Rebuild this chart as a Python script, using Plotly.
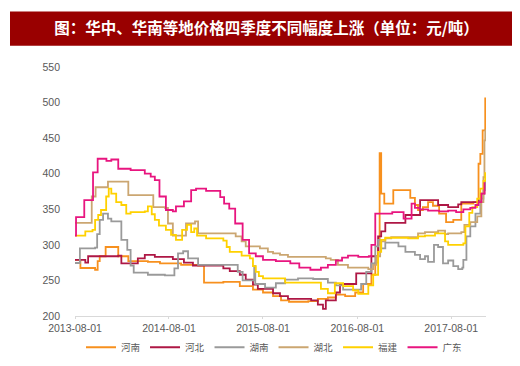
import plotly.graph_objects as go

# ---------------- data (step breakpoints) ----------------
henan_dates = ["2013-08-01", "2013-08-22", "2013-10-18", "2013-10-28", "2013-11-05", "2013-11-28",
               "2014-01-16", "2014-02-24", "2014-05-11", "2014-06-27", "2014-09-17", "2014-11-22",
               "2014-12-15", "2015-02-28", "2015-05-03", "2015-06-23", "2015-08-01", "2015-09-09",
               "2015-10-10", "2015-11-10", "2016-01-24", "2016-03-01", "2016-04-09", "2016-05-10",
               "2016-06-15", "2016-07-24", "2016-08-24", "2016-09-25", "2016-10-10", "2016-10-21",
               "2016-10-27", "2016-11-02", "2016-11-14", "2016-12-19", "2017-02-23", "2017-03-13",
               "2017-03-25", "2017-04-13", "2017-05-03", "2017-05-22", "2017-06-15", "2017-07-12",
               "2017-08-09", "2017-09-09", "2017-10-26", "2017-11-15", "2017-11-22", "2017-12-01",
               "2017-12-11"]
henan_vals = [279, 267.5, 265, 277, 284, 297,
              284, 277, 276, 274, 272, 271,
              247, 248, 242, 237, 233, 228,
              222, 220, 221, 224, 226, 230,
              228, 233, 245, 258, 275, 300,
              429, 372, 358, 377, 366, 356,
              349, 353, 360, 355, 344, 332,
              335, 358, 360, 414, 428, 461,
              507]

hebei_dates = ["2013-08-01", "2013-09-10", "2013-09-21", "2014-01-16", "2014-01-28", "2014-04-02",
               "2014-04-29", "2014-06-07", "2014-08-16", "2014-09-28", "2014-11-02", "2015-02-28",
               "2015-03-25", "2015-05-03", "2015-05-26", "2015-06-23", "2015-07-12", "2015-09-09",
               "2015-10-06", "2015-11-06", "2016-02-04", "2016-03-01", "2016-03-21", "2016-04-01",
               "2016-05-10", "2016-05-26", "2016-07-28", "2016-09-25", "2016-10-21", "2016-11-02",
               "2016-11-18", "2017-02-04", "2017-04-02", "2017-06-11", "2017-07-20", "2017-08-28",
               "2017-09-09", "2017-11-15", "2017-11-26", "2017-12-08"]
hebei_vals = [279, 275, 284, 285, 274, 281,
              286, 283, 280, 275, 271, 267,
              263, 258, 251, 244, 238, 232,
              228, 224, 222, 216, 210, 222,
              233, 245, 260, 284, 312, 319,
              331, 342, 363, 356, 353, 357,
              360, 362, 372, 385]

hunan_dates = ["2013-08-01", "2013-08-20", "2013-10-18", "2013-10-26", "2013-11-05", "2013-11-18",
               "2013-12-07", "2013-12-20", "2014-01-20", "2014-01-28", "2014-02-20", "2014-03-05",
               "2014-03-17", "2014-05-11", "2014-07-16", "2014-08-22", "2014-09-05", "2014-09-25",
               "2014-10-14", "2014-11-22", "2015-04-25", "2015-05-14", "2015-06-28", "2015-07-02",
               "2015-08-09", "2015-09-20", "2015-10-26", "2015-12-15", "2016-02-12", "2016-04-09",
               "2016-05-10", "2016-06-07", "2016-07-28", "2016-08-16", "2016-09-05", "2016-09-25",
               "2016-10-10", "2016-10-21", "2016-11-02", "2016-11-18", "2017-01-08", "2017-02-04",
               "2017-03-13", "2017-04-02", "2017-04-21", "2017-05-03", "2017-05-26", "2017-06-11",
               "2017-06-30", "2017-07-20", "2017-08-09", "2017-08-28", "2017-09-13", "2017-09-17",
               "2017-09-29", "2017-10-14", "2017-11-03", "2017-11-22", "2017-12-04", "2017-12-11"]
hunan_vals = [274.5, 295, 296, 315, 335, 344,
              337, 333, 333, 307, 293, 271,
              261, 258, 257, 267, 288, 291,
              281, 272, 262, 250, 270, 245,
              240, 246, 251, 253, 252, 247,
              243, 237, 237, 245, 262, 274,
              298, 307, 295, 303, 298, 290,
              286, 280, 284, 276, 300, 297,
              274, 278, 270, 266, 268, 279,
              312, 326, 344, 365, 377, 390]

hubei_dates = ["2013-08-01", "2013-09-20", "2013-10-05", "2013-10-20", "2013-12-07", "2014-02-16",
               "2014-02-24", "2014-05-22", "2014-06-01", "2014-07-16", "2014-07-28", "2014-08-16",
               "2014-09-30", "2014-10-06", "2014-11-10", "2014-11-22", "2015-04-17", "2015-05-10",
               "2015-05-26", "2015-07-20", "2015-08-20", "2015-09-09", "2015-10-06", "2015-11-06",
               "2016-04-01", "2016-04-20", "2016-05-18", "2016-06-26", "2016-09-13", "2016-10-02",
               "2016-10-14", "2016-10-29", "2016-11-18", "2016-12-11", "2017-03-13", "2017-03-25",
               "2017-04-21", "2017-06-11", "2017-07-08", "2017-07-20", "2017-09-09", "2017-09-21",
               "2017-10-14", "2017-11-10", "2017-11-26", "2017-12-04", "2017-12-08", "2017-12-11"]
hubei_vals = [331, 331, 368, 381, 389, 389,
              370, 370, 353, 352, 330, 313,
              313, 330, 333, 316, 312, 305,
              298, 295, 290, 288, 286, 283,
              281, 279, 272, 268, 266, 272,
              284, 305, 309, 311, 311, 316,
              318, 320, 315, 316, 318, 328,
              332, 340, 360, 395, 447, 462]

fujian_dates = ["2013-08-01", "2013-09-10", "2013-10-08", "2013-10-18", "2013-10-30", "2013-11-10",
                "2013-11-30", "2013-12-10", "2013-12-20", "2014-01-08", "2014-01-28", "2014-02-16",
                "2014-03-05", "2014-04-29", "2014-05-11", "2014-05-26", "2014-06-07", "2014-06-23",
                "2014-07-20", "2014-08-09", "2014-08-28", "2014-09-21", "2014-10-10", "2014-10-26",
                "2014-11-07", "2014-11-18", "2014-12-23", "2015-02-28", "2015-03-13", "2015-03-25",
                "2015-05-10", "2015-06-11", "2015-06-23", "2015-07-04", "2015-07-16", "2015-08-01",
                "2015-10-26", "2016-03-13", "2016-04-09", "2016-05-06", "2016-06-07", "2016-07-16",
                "2016-08-05", "2016-09-13", "2016-10-02", "2016-10-21", "2016-11-02", "2016-11-18",
                "2017-02-15", "2017-03-25", "2017-04-21", "2017-05-30", "2017-07-08", "2017-07-20",
                "2017-09-17", "2017-09-25", "2017-10-10", "2017-10-22", "2017-11-10", "2017-11-22",
                "2017-12-04", "2017-12-11"]
fujian_vals = [313, 319, 321, 335, 342, 349,
               368, 379, 372, 360, 356, 344,
               346, 347, 354, 343, 335, 327,
               321, 314, 307, 321, 328, 318,
               323, 313, 309, 306, 297, 290,
               285, 281, 270, 262, 256, 253,
               247, 238, 232, 246, 242, 236,
               231, 243, 258, 290, 307, 310,
               309, 312, 313, 316, 305, 300,
               302, 326, 345, 353, 365, 379,
               390, 402]

guangdong_dates = ["2013-08-01", "2013-08-05", "2013-09-06", "2013-10-10", "2013-10-28", "2013-12-01",
                   "2013-12-20", "2014-01-16", "2014-03-05", "2014-04-29", "2014-05-22", "2014-06-07",
                   "2014-06-25", "2014-07-20", "2014-08-16", "2014-08-28", "2014-09-28", "2014-10-26",
                   "2014-11-14", "2014-12-23", "2015-02-16", "2015-03-03", "2015-03-23", "2015-04-15",
                   "2015-05-14", "2015-06-08", "2015-07-04", "2015-08-01", "2015-09-20", "2015-11-15",
                   "2015-12-20", "2016-02-01", "2016-03-13", "2016-04-09", "2016-05-10", "2016-06-03",
                   "2016-06-26", "2016-08-05", "2016-09-15", "2016-09-25", "2016-10-10", "2016-12-15",
                   "2017-01-28", "2017-02-28", "2017-03-13", "2017-04-02", "2017-05-03", "2017-06-15",
                   "2017-07-20", "2017-08-20", "2017-09-17", "2017-10-14", "2017-11-03", "2017-11-15",
                   "2017-11-26", "2017-12-08"]
guangdong_vals = [313, 339, 363, 402, 421, 418,
                  420, 407, 405, 400, 396, 391,
                  368, 349, 347, 354, 361, 377,
                  379, 376, 367, 358, 351, 330,
                  307, 288, 284, 279, 277, 274,
                  268, 265, 268, 272, 278, 282,
                  285, 283, 284, 300, 344, 346,
                  337, 358, 352, 350, 348, 347,
                  348, 346, 350, 352, 356, 360,
                  372, 388]

series_names = ["河南", "河北", "湖南", "湖北", "福建", "广东"]
series_colors = ["#F7901E", "#AE1745", "#9A9A9A", "#CBA671", "#FFD100", "#E8157F"]
series_dates = [henan_dates, hebei_dates, hunan_dates, hubei_dates, fujian_dates, guangdong_dates]
series_vals = [henan_vals, hebei_vals, hunan_vals, hubei_vals, fujian_vals, guangdong_vals]

tick_dates = ["2013-08-01", "2014-08-01", "2015-08-01", "2016-08-01", "2017-08-01"]
y_ticks = [200, 250, 300, 350, 400, 450, 500, 550]

title_text = "图：华中、华南等地价格四季度不同幅度上涨（单位：元/吨）"

# ---------------- figure ----------------
fig = go.Figure()
for name, d, v, c in zip(series_names, series_dates, series_vals, series_colors):
    fig.add_trace(go.Scatter(x=d, y=v, mode="lines", name=name,
                             line=dict(color=c, width=1.8, shape="hv")))

W, H = 520, 366
L, R, T, B = 67, 42, 59, 56
pw = W - L - R
ph = H - T - B

def px_to_paper_x(px):
    return (px - L) / pw

def px_to_paper_y(py):
    return (H - B - py) / ph

fig.update_layout(
    width=W, height=H,
    margin=dict(l=L, r=R, t=T, b=B, pad=0),
    paper_bgcolor="white", plot_bgcolor="white",
    font=dict(family="Liberation Sans, Arial, sans-serif", color="#595959", size=10),
    showlegend=True,
    legend=dict(orientation="h", x=px_to_paper_x(266), xanchor="center",
                y=px_to_paper_y(341.5), yanchor="middle",
                font=dict(family="Noto Sans CJK SC", size=9.5, color="#595959"),
                itemwidth=30, tracegroupgap=0,
                bgcolor="rgba(0,0,0,0)"),
    title=dict(text="<b>" + title_text + "</b>", x=0.497, xref="container", xanchor="center",
               y=1 - 20.5 / H, yref="container", yanchor="middle",
               font=dict(family="Noto Sans CJK SC", size=15.5, color="white")),
    shapes=[dict(type="rect", xref="paper", yref="paper",
                 x0=px_to_paper_x(2), x1=px_to_paper_x(518),
                 y0=px_to_paper_y(37.5), y1=px_to_paper_y(3),
                 fillcolor="#990000", line=dict(width=0), layer="below")],
)

fig.update_xaxes(
    type="date", range=["2013-08-01", "2017-12-14"],
    tickvals=tick_dates, ticktext=tick_dates,
    showgrid=False, zeroline=False,
    showline=True, linecolor="#D9D9D9", linewidth=1,
    ticks="outside", ticklen=2, tickcolor="#D9D9D9",
    tickfont=dict(size=10.5, color="#595959"),
)
fig.update_yaxes(
    range=[200, 550], tickvals=y_ticks,
    showgrid=False, zeroline=False, showline=False,
    ticks="", ticklabelstandoff=14,
    tickfont=dict(size=10.5, color="#595959"),
)

fig.write_html("out.html")
